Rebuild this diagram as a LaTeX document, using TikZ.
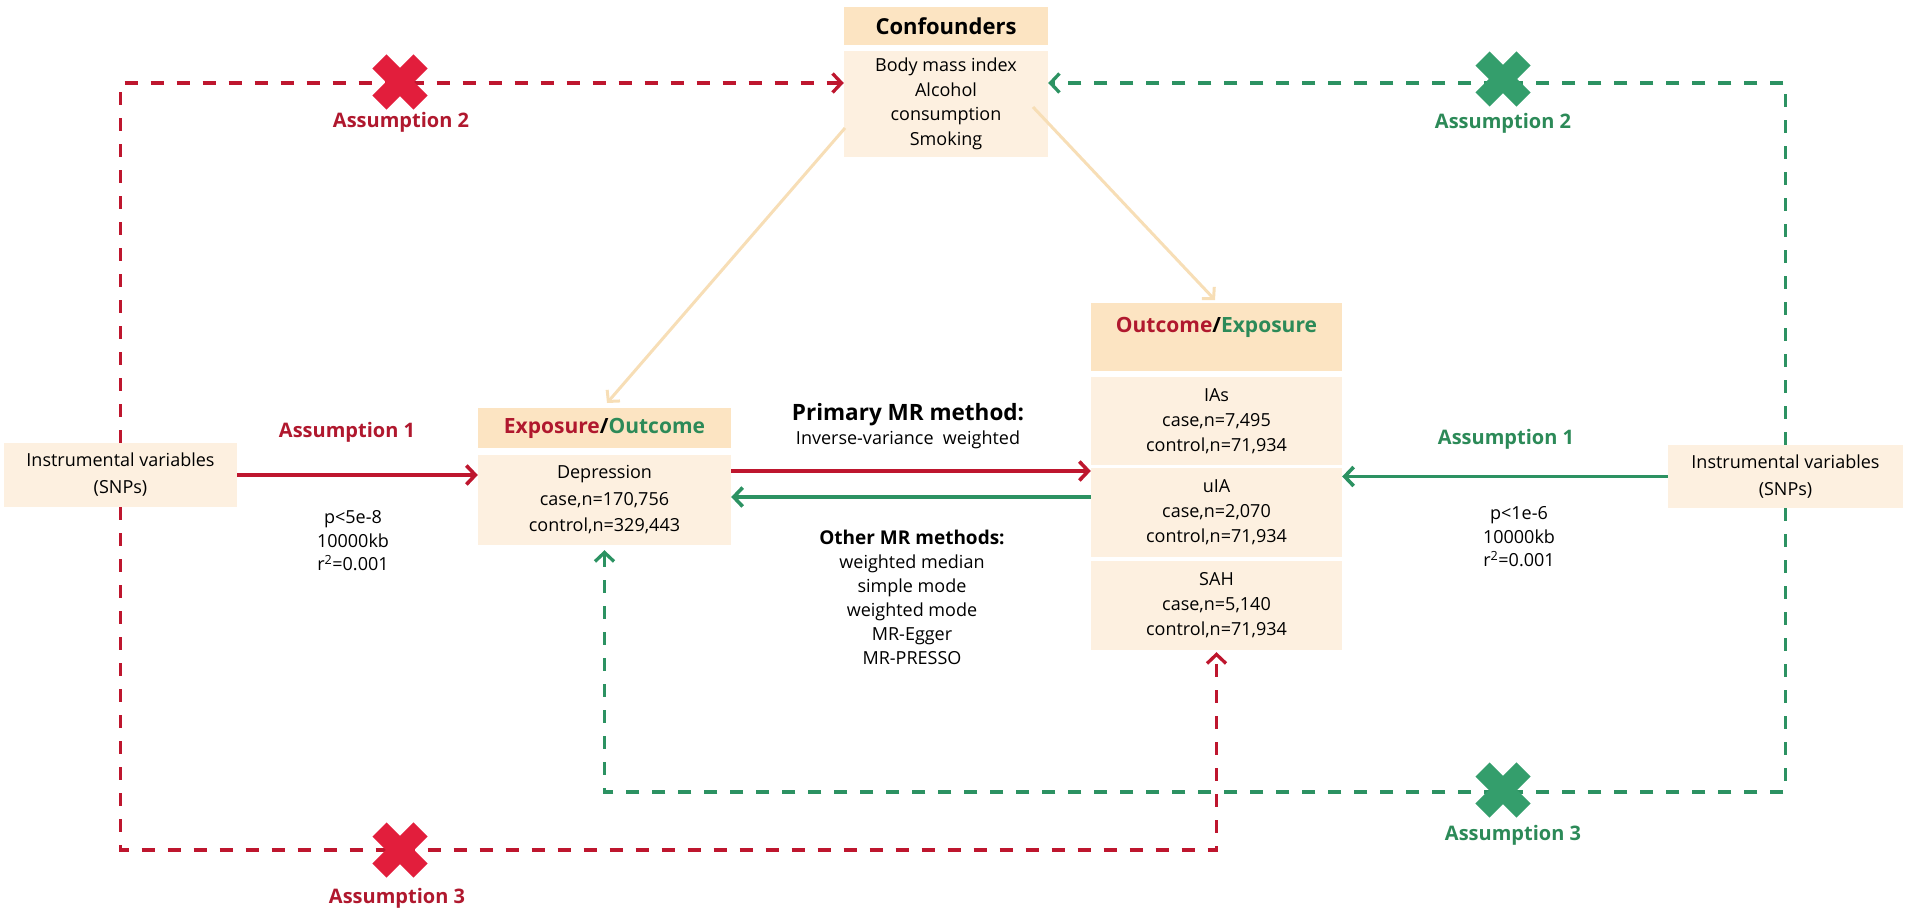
\documentclass[tikz,border=0pt]{standalone}
\usepackage{fontspec}
\setmainfont{Open Sans}
\usetikzlibrary{arrows.meta}
\definecolor{rd}{RGB}{176,24,46}
\definecolor{rdl}{RGB}{190,22,46}
\definecolor{gr}{RGB}{44,138,88}
\definecolor{grl}{RGB}{44,146,98}
\definecolor{xr}{RGB}{226,30,60}
\definecolor{xg}{RGB}{52,158,108}
\definecolor{tant}{RGB}{252,228,194}
\definecolor{tanb}{RGB}{253,240,224}
\definecolor{tanl}{RGB}{247,222,182}
\tikzset{
  titlebox/.style={fill=tant, inner sep=0pt, align=center, font=\bfseries\fontsize{21}{25}\selectfont},
  bodybox/.style={fill=tanb, inner sep=0pt, align=center, font=\fontsize{18}{25}\selectfont},
  plain/.style={inner sep=0pt, align=center, font=\fontsize{18}{23.5}\selectfont},
  asmred/.style={inner sep=0pt, text=rd, font=\bfseries\fontsize{20}{24}\selectfont},
  asmgreen/.style={inner sep=0pt, text=gr, font=\bfseries\fontsize{20}{24}\selectfont},
  tip/.style={-{Straight Barb[length=9pt,width=19pt]}},
  redarrow/.style={draw=rdl, line width=3.6pt, tip},
  greenarrow/.style={draw=grl, line width=3.6pt, tip},
  reddash/.style={draw=rdl, line width=3.3pt, dash pattern=on 13pt off 13pt, tip},
  greendash/.style={draw=grl, line width=3.3pt, dash pattern=on 13pt off 13pt, tip},
  tanarrow/.style={draw=tanl, line width=3pt, -{Straight Barb[length=8pt,width=17pt]}},
  xmark/.pic={\fill[pic actions, rotate=45] (-10,-29) -- (10,-29) -- (10,-10) -- (29,-10) -- (29,10) -- (10,10) -- (10,29) -- (-10,29) -- (-10,10) -- (-29,10) -- (-29,-10) -- (-10,-10) -- cycle;}
}
\begin{document}
\begin{tikzpicture}[x=1pt,y=-1pt]
\useasboundingbox (0,0) rectangle (1907,916);

% coordinates of line levels
\coordinate (topy) at (0,83);
\coordinate (rboty) at (0,850);
\coordinate (gboty) at (0,792);
\coordinate (ry) at (0,471);
\coordinate (gy) at (0,497);
\coordinate (tl1) at (845,128);
\coordinate (tl2) at (607,403);
\coordinate (tr1) at (1033,107);
\coordinate (tr2) at (1215,300);

% boxes
\node[titlebox, minimum width=204pt, minimum height=38pt, font=\bfseries\fontsize{22}{26}\selectfont] (conft) at (946,26) {Confounders};
\node[bodybox, minimum width=204pt, minimum height=106pt, font=\fontsize{18}{24.5}\selectfont] (confb) at (946,104) {Body mass index\\Alcohol\\consumption\\Smoking};
\node[bodybox, minimum width=233pt, minimum height=64pt, font=\fontsize{18}{27}\selectfont] (ivL) at (120.5,475) {Instrumental variables\\(SNPs)};
\node[bodybox, minimum width=235pt, minimum height=63pt, font=\fontsize{18}{27}\selectfont] (ivR) at (1785.5,476.5) {Instrumental variables\\(SNPs)};
\node[titlebox, minimum width=253pt, minimum height=40pt] (expt) at (604.5,428) {\textcolor{rd}{Exposure}/\textcolor{gr}{Outcome}};
\node[bodybox, minimum width=253pt, minimum height=90pt, font=\fontsize{18}{26.5}\selectfont] (expb) at (604.5,500) {Depression\\case,n=170,756\\control,n=329,443};
\node[titlebox, minimum width=251pt, minimum height=68pt] (outt) at (1216.5,337) {};
\node[inner sep=0pt, font=\bfseries\fontsize{21}{25}\selectfont] (outtxt) at (1216.5,327) {\textcolor{rd}{Outcome}/\textcolor{gr}{Exposure}};
\node[bodybox, minimum width=251pt, minimum height=88pt] (o1) at (1216.5,421) {IAs\\case,n=7,495\\control,n=71,934};
\node[bodybox, minimum width=251pt, minimum height=89pt] (o2) at (1216.5,512.5) {uIA\\case,n=2,070\\control,n=71,934};
\node[bodybox, minimum width=251pt, minimum height=89pt] (o3) at (1216.5,605.5) {SAH\\case,n=5,140\\control,n=71,934};

% dashed connectors
\draw[reddash] (ivL.north) -- (ivL.north |- topy) -- (confb.west |- topy);
\draw[reddash, shorten >=2pt] (ivL.south) -- (ivL.south |- rboty) -- (o3.south |- rboty) -- (o3.south);
\draw[greendash] (ivR.north) -- (ivR.north |- topy) -- (confb.east |- topy);
\draw[greendash, shorten >=5pt] (ivR.south) -- (ivR.south |- gboty) -- (expb.south |- gboty) -- (expb.south);

% X marks
\pic[fill=xr] at (400,82) {xmark};
\pic[fill=xg] at (1503,79) {xmark};
\pic[fill=xr] at (400,850) {xmark};
\pic[fill=xg] at (1503,790) {xmark};

% assumption labels
\node[asmred] (a2l) at (401,122) {Assumption 2};
\node[asmgreen] (a2r) at (1503,123) {Assumption 2};
\node[asmred] (a3l) at (397,898) {Assumption 3};
\node[asmgreen] (a3r) at (1513,835) {Assumption 3};
\node[asmred] (a1l) at (347,432) {Assumption 1};
\node[asmgreen] (a1r) at (1506,439) {Assumption 1};
\node[plain] (pl) at (353,541) {p<5e-8\\10000kb\\r\textsuperscript{2}=0.001};
\node[plain] (pr) at (1519,537) {p<1e-6\\10000kb\\r\textsuperscript{2}=0.001};

% MR method labels
\node[inner sep=0pt, font=\bfseries\fontsize{22.5}{26}\selectfont] (prim) at (908,415) {Primary MR method:};
\node[plain] (ivw) at (908,440) {Inverse-variance\ \ weighted};
\node[inner sep=0pt, align=center, font=\fontsize{18}{24}\selectfont] (other) at (912,597.5) {{\bfseries\fontsize{19}{24}\selectfont Other MR methods:}\\weighted median\\simple mode\\weighted mode\\MR-Egger\\MR-PRESSO};

% solid arrows
\draw[redarrow] (ivL.east) -- (ivL.east -| expb.west);
\draw[redarrow] (expb.east |- ry) -- (o2.west |- ry);
\draw[greenarrow] (o2.west |- gy) -- (expb.east |- gy);
\draw[greenarrow] (ivR.west) -- (ivR.west -| o2.east);

% confounder arrows
\draw[tanarrow] (tl1) -- (tl2);
\draw[tanarrow] (tr1) -- (tr2);
\end{tikzpicture}
\end{document}
